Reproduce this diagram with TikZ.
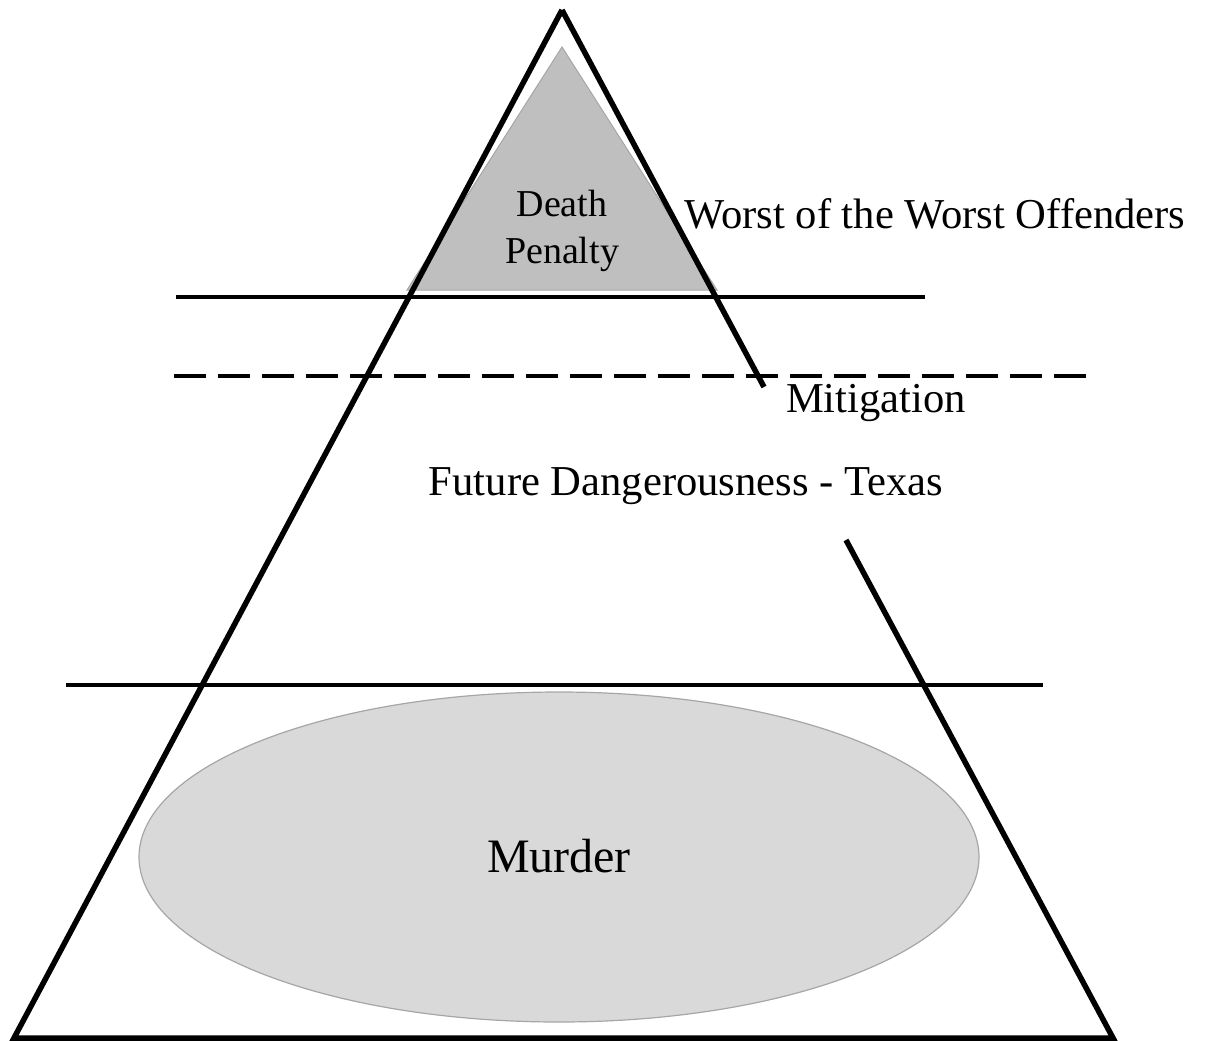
\documentclass[tikz,border=0pt]{standalone}
\usepackage{fontspec}
\setmainfont{Liberation Serif}
\definecolor{capfill}{HTML}{BFBFBF}
\definecolor{ellfill}{HTML}{D9D9D9}
\definecolor{softedge}{HTML}{A6A6A6}
\begin{document}
\begin{tikzpicture}[x=0.5pt,y=-0.5pt,
  frame/.style={line width=2.75pt, line cap=butt, line join=miter},
  rulesolid/.style={line width=2pt},
  ruledash/.style={line width=2pt, dash pattern=on 16pt off 6pt},
  lbl/.style={inner sep=0pt, anchor=base, font=\fontsize{21.3}{24}\selectfont},
  caplbl/.style={inner sep=0pt, align=center, font=\fontsize{19}{23.5}\selectfont},
  biglbl/.style={inner sep=0pt, anchor=base, font=\fontsize{24}{28}\selectfont},
]
\useasboundingbox (0,0) rectangle (1206,1040);
% corners of the pyramid
\coordinate (apex) at (562,10);
\coordinate (bl) at (14,1038);
\coordinate (br) at (1113,1038);
\coordinate (gapA) at (764,387);
\coordinate (gapB) at (846,540);
% small top triangle
\coordinate (tA) at (562,47);
\coordinate (tL) at (407,290);
\coordinate (tR) at (717,290);
\fill[capfill] (tA) -- (tL) -- (tR) -- cycle;
\draw[softedge, line width=0.5pt] (tA) -- (tL) -- (tR) -- cycle;
% ellipse
\draw[softedge, fill=ellfill, line width=0.6pt] (559,857) ellipse [x radius=420, y radius=165];
% horizontal rules
\coordinate (r1a) at (176,297); \coordinate (r1b) at (925,297);
\coordinate (r2a) at (174,376); \coordinate (r2b) at (1088,376);
\coordinate (r3a) at (66,685);  \coordinate (r3b) at (1043,685);
\draw[rulesolid] (r1a) -- (r1b);
\draw[ruledash] (r2a) -- (r2b);
\draw[rulesolid] (r3a) -- (r3b);
% pyramid outline
\draw[frame] (apex) -- (gapA);
\draw[frame] (gapB) -- (br) -- (bl) -- (apex);
% labels
\node[caplbl] (dp) at (562,231) {Death\\Penalty};
\node[lbl] (worst) at (935,228) {Worst of the Worst Offenders};
\node[lbl] (mit) at (876,412) {Mitigation};
\node[lbl] (fut) at (686,495) {Future Dangerousness - Texas};
\node[biglbl] (mur) at (559,872) {Murder};
\end{tikzpicture}
\end{document}
